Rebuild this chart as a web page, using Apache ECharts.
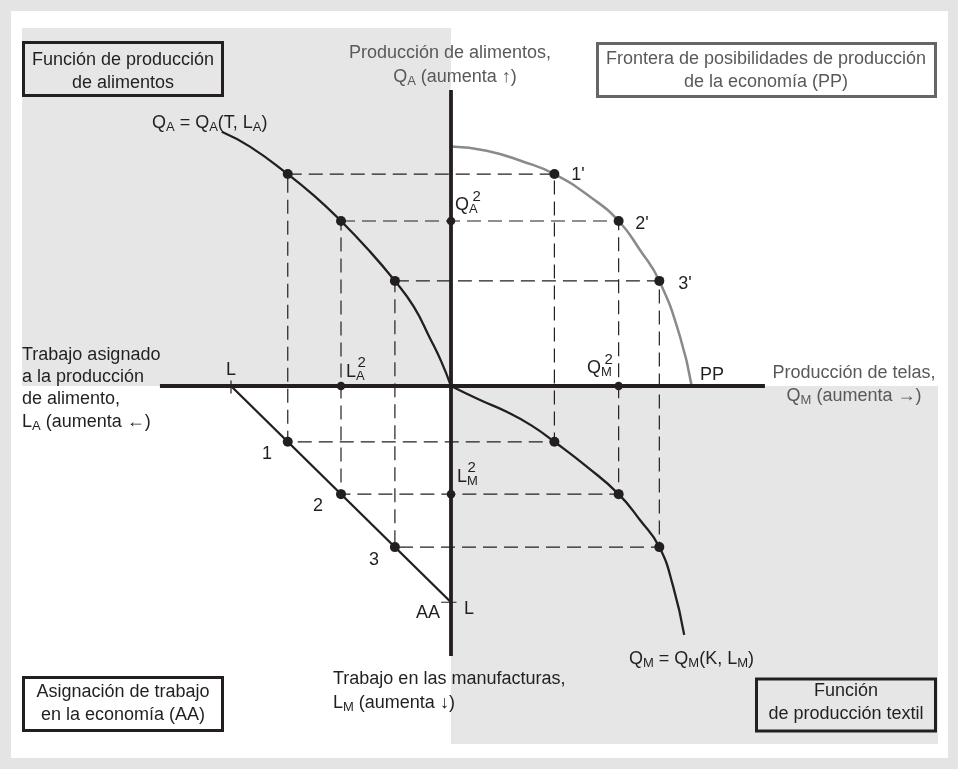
<!DOCTYPE html>
<html><head><meta charset="utf-8">
<script src="https://cdn.jsdelivr.net/npm/echarts@6/dist/echarts.min.js"></script>
<style>html,body{margin:0;padding:0;background:#e4e4e4}#c{width:958px;height:769px}</style>
</head><body><div id="c"></div>
<script>
// ---- data (units of labour / output) ----
const totalLabour = 10;
const laborFood = [7.42, 5.0, 2.55];     // L_A at allocations 1,2,3
const laborManuf = [2.58, 5.0, 7.45];    // L_M at allocations 1,2,3
const outputFood = [9.8, 7.63, 4.86];    // Q_A at allocations 1,2,3
const outputCloth = [4.7, 7.62, 9.47];   // Q_M at allocations 1,2,3
const highlighted = 1;                   // allocation 2 marked on axes
// traced curves
const qaCurveX = [-10.42, -9.14, -7.42, -6.2, -5.0, -3.8, -2.55, -1.7, -0.95, -0.45, 0];
const qaCurveY = [11.76, 11.07, 9.8, 8.78, 7.63, 6.35, 4.86, 3.68, 2.2, 1.15, 0];
const ppCurveX = [0, 1.62, 3.29, 4.7, 6.32, 7.62, 8.59, 9.47, 10.41, 10.94];
const ppCurveY = [11.07, 10.88, 10.37, 9.8, 8.75, 7.63, 6.29, 4.86, 2.28, 0];
const qmCurveX = [0, 1.32, 2.53, 3.65, 4.7, 6.17, 7.62, 8.59, 9.47, 10.1, 10.6];
const qmCurveY = [0, -0.65, -1.19, -1.82, -2.58, -3.73, -5.0, -6.2, -7.45, -9.28, -11.51];
const hAxisRange = [-13.23, 14.27];
const vAxisRange = [-12.49, 13.69];

// ---- styles ----
const FF = "'Liberation Sans', Arial, Helvetica, sans-serif";
const DARK = '#231f20', GREYTXT = '#58595b', BG = '#e6e6e6';

const zip = (xs, ys) => xs.map((x, i) => [x, ys[i]]);
const series = [];
function lineS(data, color, width, extra) {
  return Object.assign({type: 'line', data, symbol: 'none', silent: true, animation: false,
    lineStyle: {color, width}, z: 3}, extra || {});
}
// dashed construction rectangles
for (let i = 0; i < laborFood.length; i++) {
  series.push(lineS([
    [-laborFood[i], outputFood[i]], [outputCloth[i], outputFood[i]],
    [outputCloth[i], -laborManuf[i]], [-laborFood[i], -laborManuf[i]],
    [-laborFood[i], outputFood[i]]
  ], DARK, 1.2, {lineStyle: {color: DARK, width: 1.2, type: [14, 7]}, z: 2}));
}
// axes
series.push(lineS([[hAxisRange[0], 0], [hAxisRange[1], 0]], DARK, 3.8, {z: 4}));
series.push(lineS([[0, vAxisRange[0]], [0, vAxisRange[1]]], DARK, 3.8, {z: 4}));
// AA line and ticks
series.push(lineS([[-totalLabour, 0], [0, -totalLabour]], DARK, 2.3));
series.push(lineS([[-totalLabour, 0.25], [-totalLabour, -0.35]], DARK, 1.2));
series.push(lineS([[-0.45, -totalLabour], [0.25, -totalLabour]], DARK, 1.2));
// curves
series.push(lineS(zip(qaCurveX, qaCurveY), DARK, 2.3, {smooth: 0.5}));
series.push(lineS(zip(qmCurveX, qmCurveY), DARK, 2.3, {smooth: 0.5}));
series.push(lineS(zip(ppCurveX, ppCurveY), '#8a8a8a', 2.5, {smooth: 0.5}));
// dots
const bigDots = [];
for (let i = 0; i < laborFood.length; i++) {
  bigDots.push([-laborFood[i], outputFood[i]], [outputCloth[i], outputFood[i]],
    [outputCloth[i], -laborManuf[i]], [-laborFood[i], -laborManuf[i]]);
}
series.push({type: 'scatter', data: bigDots, symbolSize: 10, itemStyle: {color: DARK, opacity: 1}, z: 10, silent: true, animation: false});
const h = highlighted;
series.push({type: 'scatter', data: [[0, outputFood[h]], [-laborFood[h], 0], [outputCloth[h], 0], [0, -laborManuf[h]]],
  symbolSize: 8.5, itemStyle: {color: DARK, opacity: 1}, z: 10, silent: true, animation: false});

// ---- text / decoration ----
const subS = {fontSize: 13, fontFamily: FF, padding: [9, 0, 0, 0]};
function txt(x, y, text, o) {
  o = o || {};
  const al = o.align || 'left';
  const st = {text, x: 0, y: 0, fill: o.fill || DARK, fontSize: o.size || 18, fontFamily: FF,
    align: al, verticalAlign: 'middle', textAlign: al, textVerticalAlign: 'middle', lineHeight: o.lh || 23,
    rich: {s: subS}};
  return {type: 'text', x, y, z: 100, silent: true, style: st};
}
function rect(x, y, w, hh, fill, stroke, lw, z) {
  return {type: 'rect', shape: {x, y, width: w, height: hh}, z: z, silent: true,
    style: {fill: fill, stroke: stroke || null, lineWidth: lw || 0}};
}
const graphics = [
  rect(11, 11, 937, 747, '#ffffff', null, 0, -30),
  rect(22, 28, 429, 358, BG, null, 0, -20),
  rect(451, 386, 487, 358, BG, null, 0, -20),
  rect(23.5, 42.5, 199, 53, 'none', DARK, 3, 50),
  rect(597.5, 43.5, 338, 53, 'none', '#666666', 3, 50),
  rect(23.5, 677.5, 199, 53, 'none', DARK, 3, 50),
  rect(756.5, 679, 179, 52, 'none', DARK, 3, 50),
  txt(123, 71.5, 'Función de producción\nde alimentos', {align: 'center'}),
  txt(766, 71, 'Frontera de posibilidades de producción\nde la economía (PP)', {align: 'center', fill: GREYTXT}),
  txt(123, 703.5, 'Asignación de trabajo\nen la economía (AA)', {align: 'center'}),
  txt(846, 703, 'Función\nde producción textil', {align: 'center'}),
  txt(450, 53, 'Producción de alimentos,', {align: 'center', fill: GREYTXT}),
  txt(455, 77, 'Q{s|A} (aumenta ↑)', {align: 'center', fill: GREYTXT}),
  txt(854, 373, 'Producción de telas,', {align: 'center', fill: GREYTXT}),
  txt(854, 396, 'Q{s|M} (aumenta →)', {align: 'center', fill: GREYTXT}),
  txt(22, 355, 'Trabajo asignado'),
  txt(22, 377, 'a la producción'),
  txt(22, 399, 'de alimento,'),
  txt(22, 422, 'L{s|A} (aumenta ←)'),
  txt(333, 679, 'Trabajo en las manufacturas,'),
  txt(333, 703, 'L{s|M} (aumenta ↓)'),
  txt(152, 123, 'Q{s|A} = Q{s|A}(T, L{s|A})'),
  txt(629, 659, 'Q{s|M} = Q{s|M}(K, L{s|M})'),
  txt(231, 370, 'L', {align: 'center'}),
  txt(346, 372, 'L{s|A}'),
  txt(357.5, 363, '2', {size: 15}),
  txt(267, 454, '1', {align: 'center'}),
  txt(318, 506, '2', {align: 'center'}),
  txt(374, 560, '3', {align: 'center'}),
  txt(428, 613, 'AA', {align: 'center'}),
  txt(469, 609, 'L', {align: 'center'}),
  txt(457, 477, 'L{s|M}'),
  txt(467.5, 468, '2', {size: 15}),
  txt(455, 205, 'Q{s|A}'),
  txt(472.5, 197, '2', {size: 15}),
  txt(587, 368, 'Q{s|M}'),
  txt(604.5, 360, '2', {size: 15}),
  txt(578, 175, "1'", {align: 'center'}),
  txt(642, 224, "2'", {align: 'center'}),
  txt(685, 284, "3'", {align: 'center'}),
  txt(712, 375, 'PP', {align: 'center'})
];

const chart = echarts.init(document.getElementById('c'), null, {renderer: 'canvas'});
chart.setOption({
  animation: false,
  backgroundColor: '#e4e4e4',
  grid: {left: 11, right: 23, top: 40, bottom: 37},
  xAxis: {type: 'value', min: -20, max: 22, show: false},
  yAxis: {type: 'value', min: -16, max: 16, show: false},
  graphic: graphics,
  series: series
});
</script></body></html>
